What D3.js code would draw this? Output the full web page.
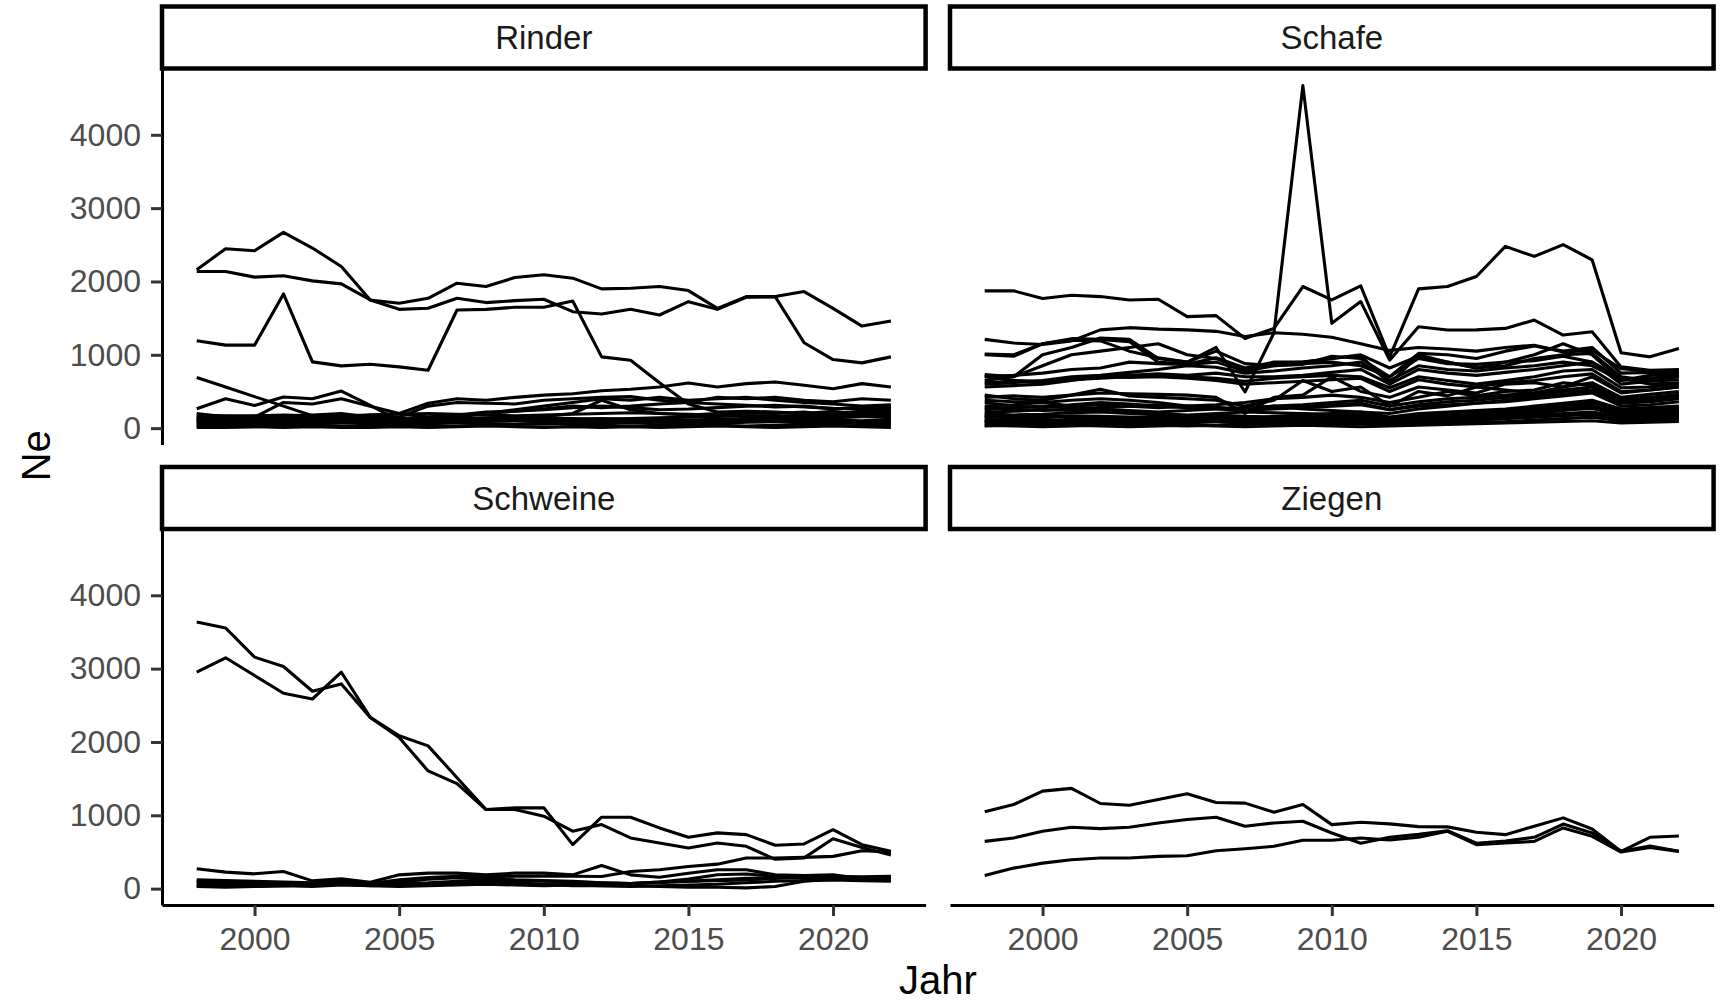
<!DOCTYPE html>
<html>
<head>
<meta charset="utf-8">
<script src="https://cdn.jsdelivr.net/npm/d3@7"></script>
<style>
  body { margin: 0; background: #ffffff; }
  svg { display: block; font-family: "Liberation Sans", Arial, sans-serif; }
</style>
</head>
<body>
<div id="chart"></div>
<script>
// Jahre (x) und Achsenbeschriftungen
var years = [1998, 1999, 2000, 2001, 2002, 2003, 2004, 2005, 2006, 2007, 2008, 2009, 2010,
             2011, 2012, 2013, 2014, 2015, 2016, 2017, 2018, 2019, 2020, 2021, 2022];
var xTicks = [2000, 2005, 2010, 2015, 2020];
var yTicks = [0, 1000, 2000, 3000, 4000];
var facetNames = ["Rinder", "Schafe", "Schweine", "Ziegen"];

// Ne je Rasse, eine Reihe pro Rasse
var rinderNe = [
  [2159,2447,2419,2670,2456,2205,1748,1703,1771,1976,1931,2054,2091,2045,1899,1908,1931,1876,1634,1794,1794,1862,1634,1392,1461],
  [2136,2136,2059,2077,2008,1967,1748,1620,1634,1771,1712,1739,1757,1588,1556,1620,1543,1725,1620,1785,1794,1164,935,890,972],
  [1191,1132,1132,1830,904,849,872,835,789,1611,1620,1648,1648,1734,972,926,620,330,220,230,220,200,230,180,200],
  [690,560,430,300,170,120,100,90,100,110,120,100,90,80,90,100,80,70,60,80,90,70,80,60,70],
  [264,401,310,424,401,506,310,104,110,150,200,250,300,350,400,380,420,380,400,420,380,350,330,300,320],
  [150,130,150,350,330,400,300,200,150,180,220,230,260,300,280,300,330,350,330,310,290,300,260,280,300],
  [100,120,110,130,140,150,180,200,340,400,380,420,450,470,510,530,560,616,560,607,630,584,538,607,561],
  [120,100,90,100,110,120,130,150,300,350,340,330,380,400,420,430,380,350,420,400,420,380,360,400,380],
  [80,70,60,70,80,90,100,120,150,180,200,230,250,280,300,280,250,260,280,300,310,290,270,260,280],
  [200,150,140,160,180,200,150,120,100,110,120,140,160,200,380,250,200,180,200,210,200,220,180,200,230],
  [60,50,40,50,60,70,80,90,100,110,120,110,100,90,80,70,80,90,100,110,120,100,90,80,100],
  [30,20,20,30,40,30,40,50,40,30,40,50,60,50,40,30,40,50,40,30,40,50,40,30,40],
  [120,130,140,130,120,110,100,110,120,130,140,150,140,130,120,130,140,150,160,170,160,150,140,160,170],
  [10,10,20,10,20,10,10,20,10,20,30,20,10,20,10,20,10,20,30,20,10,20,30,20,10],
  [90,100,110,100,90,80,70,60,70,80,90,100,110,120,130,120,110,100,90,100,110,120,110,100,120],
  [150,160,170,180,170,160,150,140,130,120,110,100,90,80,70,80,90,100,110,120,130,140,150,160,150],
  [40,50,60,70,80,90,100,90,80,70,60,50,60,70,80,90,100,110,120,130,140,150,200,220,250],
  [180,170,160,150,160,170,180,190,200,190,180,170,180,190,200,210,200,190,180,170,160,180,200,230,260]
];

var schafeNe = [
  [1872,1872,1767,1812,1794,1748,1758,1520,1534,1223,1360,1931,1749,1941,972,1899,1931,2068,2479,2342,2502,2296,1027,972,1086],
  [1000,980,1150,1200,1190,1050,960,900,1100,493,1300,4671,1429,1726,927,1383,1338,1340,1360,1474,1269,1315,835,790,800],
  [1210,1160,1140,1190,1340,1370,1350,1340,1320,1250,1300,1280,1240,1150,1060,1100,1080,1050,1100,1130,1040,1060,810,780,760],
  [1010,1000,1150,1220,1210,1180,900,870,960,820,900,900,950,990,600,1000,900,820,900,1000,1150,1000,650,720,750],
  [730,700,1000,1100,1230,1210,950,900,1050,880,850,870,980,950,700,1020,1000,950,1050,1120,1050,1100,750,760,700],
  [650,700,850,1000,1050,1100,1150,1000,950,800,880,900,950,1000,820,980,900,820,850,950,1000,1020,700,650,700],
  [700,720,750,800,820,900,880,870,900,780,850,880,900,850,700,950,880,870,900,920,980,900,680,600,620],
  [600,620,650,700,720,760,800,850,830,750,780,820,850,900,650,850,800,780,820,850,900,850,650,680,720],
  [560,580,600,650,700,720,740,720,750,700,700,720,760,800,600,800,750,720,760,800,850,900,600,640,660],
  [700,650,640,660,680,700,720,700,680,640,680,700,720,700,550,700,650,600,650,700,780,800,550,560,600],
  [620,640,620,680,700,690,700,680,650,600,620,640,660,680,500,660,600,560,620,650,700,740,500,520,560],
  [420,440,420,450,480,470,460,450,420,200,420,450,700,500,420,560,520,480,600,620,560,700,480,520,560],
  [450,400,380,450,530,440,420,400,380,300,380,650,500,560,300,500,440,560,520,480,560,620,420,460,500],
  [380,360,350,300,320,300,280,300,320,350,400,420,450,420,350,420,500,440,500,520,620,580,400,420,460],
  [300,320,350,380,400,380,350,300,280,260,300,320,350,380,300,360,400,420,450,480,520,560,380,400,450],
  [350,300,280,320,350,330,300,280,260,240,280,300,320,340,250,320,360,380,420,450,500,520,350,380,420],
  [250,280,300,280,260,240,220,240,260,280,300,260,240,220,200,260,300,340,380,420,460,500,340,360,400],
  [280,260,240,260,280,300,320,300,280,250,260,280,300,320,250,300,320,340,360,400,440,480,300,320,360],
  [200,180,190,210,220,200,180,160,150,140,160,180,200,220,150,200,220,240,260,300,340,380,260,280,300],
  [150,160,170,150,140,130,150,170,180,160,150,140,160,180,130,160,180,200,220,260,300,340,230,250,270],
  [100,120,110,100,90,110,130,120,110,100,120,140,130,110,100,120,140,160,180,220,260,300,200,220,240],
  [80,90,100,120,110,90,80,70,90,110,100,90,80,100,90,100,120,140,160,200,240,280,180,190,210],
  [180,150,120,100,80,70,60,50,40,60,80,100,120,140,110,130,150,170,190,220,250,270,170,180,200],
  [60,50,40,50,60,70,80,90,100,90,80,70,60,70,60,80,100,120,150,180,200,220,150,160,180],
  [120,100,90,80,70,80,90,100,110,120,130,120,110,100,80,90,100,110,130,150,170,190,130,140,150],
  [40,30,20,30,40,50,40,30,40,50,60,50,40,60,50,60,70,80,90,110,130,150,100,110,120],
  [220,230,250,240,230,220,200,180,200,220,210,200,190,180,140,170,190,210,240,280,310,350,240,260,280],
  [30,40,50,40,30,20,30,40,30,20,30,40,30,20,30,40,50,60,70,80,90,100,70,80,90],
  [160,140,150,170,160,150,140,130,120,130,140,150,160,170,120,150,170,190,210,240,270,300,200,210,230],
  [90,80,70,60,70,80,100,110,90,80,70,60,80,100,70,90,110,130,150,170,190,210,140,150,170]
];

var schweineNe = [
  [3636,3554,3157,3029,2691,2792,2335,2084,1947,1513,1079,1102,1102,600,974,974,828,700,760,737,591,609,805,600,509],
  [2951,3148,2906,2664,2586,2951,2335,2061,1605,1431,1079,1079,988,783,874,691,623,554,623,577,400,420,680,560,460],
  [271,225,202,234,106,134,88,188,211,211,188,211,211,188,316,188,156,211,257,257,188,179,188,134,152],
  [90,80,70,60,70,80,70,120,150,170,160,170,170,170,166,234,257,303,334,417,417,426,440,517,499],
  [60,60,50,50,60,70,60,90,130,150,140,120,110,100,80,70,90,130,190,200,170,160,160,120,130],
  [100,90,80,70,60,80,60,60,70,80,90,80,60,40,40,40,30,20,20,10,30,100,130,120,150],
  [40,30,30,40,50,60,40,50,60,70,60,60,50,60,60,70,90,100,120,140,150,150,140,130,160],
  [120,110,100,90,80,100,70,70,80,100,120,110,100,90,80,70,80,100,110,120,140,160,170,160,170],
  [30,20,30,40,30,50,40,30,40,50,60,50,40,50,40,30,40,50,60,80,100,110,120,110,100]
];

var ziegenNe = [
  [1047,1147,1330,1367,1161,1138,1216,1294,1175,1166,1042,1147,873,905,883,846,842,768,736,851,965,814,508,700,718],
  [645,691,782,837,819,837,896,942,974,851,896,919,759,620,700,740,790,620,650,700,880,760,510,580,510],
  [180,280,348,394,417,417,440,449,517,545,577,659,659,691,663,700,782,600,622,645,828,714,499,563,508]
];

// Layout (Pixel)
var svgWidth = 1728, svgHeight = 1004;
var panelLeft = [162, 950];
var panelWidth = 763.6;
var stripTop = [6.5, 467];
var stripHeight = 62;
var panelHeight = 376;
var lineWidth = 3.1;
var axisWidth = 3;

var facets = [
  {name: facetNames[0], data: rinderNe, col: 0, row: 0},
  {name: facetNames[1], data: schafeNe, col: 1, row: 0},
  {name: facetNames[2], data: schweineNe, col: 0, row: 1},
  {name: facetNames[3], data: ziegenNe, col: 1, row: 1}
];

// gemeinsame Skalen mit 5% Rand wie bei ggplot
var allValues = [];
facets.forEach(function(f) { f.data.forEach(function(s) { allValues = allValues.concat(s); }); });
var yMin = d3.min(allValues), yMax = d3.max(allValues);
var yPad = (yMax - yMin) * 0.05;
var xExt = d3.extent(years);
var xPad = (xExt[1] - xExt[0]) * 0.05;

var svg = d3.select("#chart")
  .append("svg")
    .attr("width", svgWidth)
    .attr("height", svgHeight);

facets.forEach(function(f) {
  var left = panelLeft[f.col];
  var top = stripTop[f.row] + stripHeight;

  var xScale = d3.scaleLinear()
      .domain([xExt[0] - xPad, xExt[1] + xPad])
      .range([0, panelWidth]);
  var yScale = d3.scaleLinear()
      .domain([yMin - yPad, yMax + yPad])
      .range([panelHeight, 0]);

  var g = svg.append("g")
      .attr("transform", "translate(" + left + "," + top + ")");

  var line = d3.line()
      .x(function(d, i) { return xScale(years[i]); })
      .y(function(d) { return yScale(d); });

  g.selectAll("path.ne")
    .data(f.data)
    .enter().append("path")
      .attr("class", "ne")
      .attr("d", line)
      .attr("fill", "none")
      .attr("stroke", "#000000")
      .attr("stroke-width", lineWidth)
      .attr("stroke-linejoin", "round");

  // y-Achse nur in der linken Spalte
  if (f.col === 0) {
    var ay = g.append("g")
        .call(d3.axisLeft(yScale).tickValues(yTicks).tickFormat(d3.format("d"))
          .tickSize(11).tickSizeOuter(0).tickPadding(10));
    ay.select(".domain").attr("stroke", "#000000").attr("stroke-width", axisWidth);
    ay.selectAll(".tick line").attr("stroke", "#333333").attr("stroke-width", axisWidth);
    ay.selectAll(".tick text")
      .attr("fill", "#4d4d4d")
      .style("font-size", "32px")
      .style("font-family", "Liberation Sans, Arial, sans-serif");
  }

  // x-Achse nur in der unteren Zeile
  if (f.row === 1) {
    var ax = g.append("g")
        .attr("transform", "translate(0," + panelHeight + ")")
        .call(d3.axisBottom(xScale).tickValues(xTicks).tickFormat(d3.format("d"))
          .tickSize(11).tickSizeOuter(0).tickPadding(11));
    ax.select(".domain").attr("stroke", "#000000").attr("stroke-width", axisWidth);
    ax.selectAll(".tick line").attr("stroke", "#333333").attr("stroke-width", axisWidth);
    ax.selectAll(".tick text")
      .attr("fill", "#4d4d4d")
      .style("font-size", "32px")
      .style("font-family", "Liberation Sans, Arial, sans-serif");
  }

  // Streifen mit Titel
  svg.append("rect")
      .attr("x", left)
      .attr("y", stripTop[f.row])
      .attr("width", panelWidth)
      .attr("height", stripHeight)
      .attr("fill", "#ffffff")
      .attr("stroke", "#000000")
      .attr("stroke-width", 4.5);

  svg.append("text")
      .attr("x", left + panelWidth / 2)
      .attr("y", stripTop[f.row] + stripHeight / 2)
      .attr("dy", "0.35em")
      .attr("text-anchor", "middle")
      .style("font-size", "33px")
      .style("fill", "#1a1a1a")
      .text(f.name);
});

// Achsentitel
svg.append("text")
    .attr("x", (panelLeft[0] + panelLeft[1] + panelWidth) / 2)
    .attr("y", 980)
    .attr("dy", "0.35em")
    .attr("text-anchor", "middle")
    .style("font-size", "40px")
    .style("fill", "#000000")
    .text("Jahr");

svg.append("text")
    .attr("transform", "translate(36," + (stripTop[0] + stripTop[1] + stripHeight + panelHeight) / 2 + ") rotate(-90)")
    .attr("dy", "0.35em")
    .attr("text-anchor", "middle")
    .style("font-size", "40px")
    .style("fill", "#000000")
    .text("Ne");
</script>
</body>
</html>
